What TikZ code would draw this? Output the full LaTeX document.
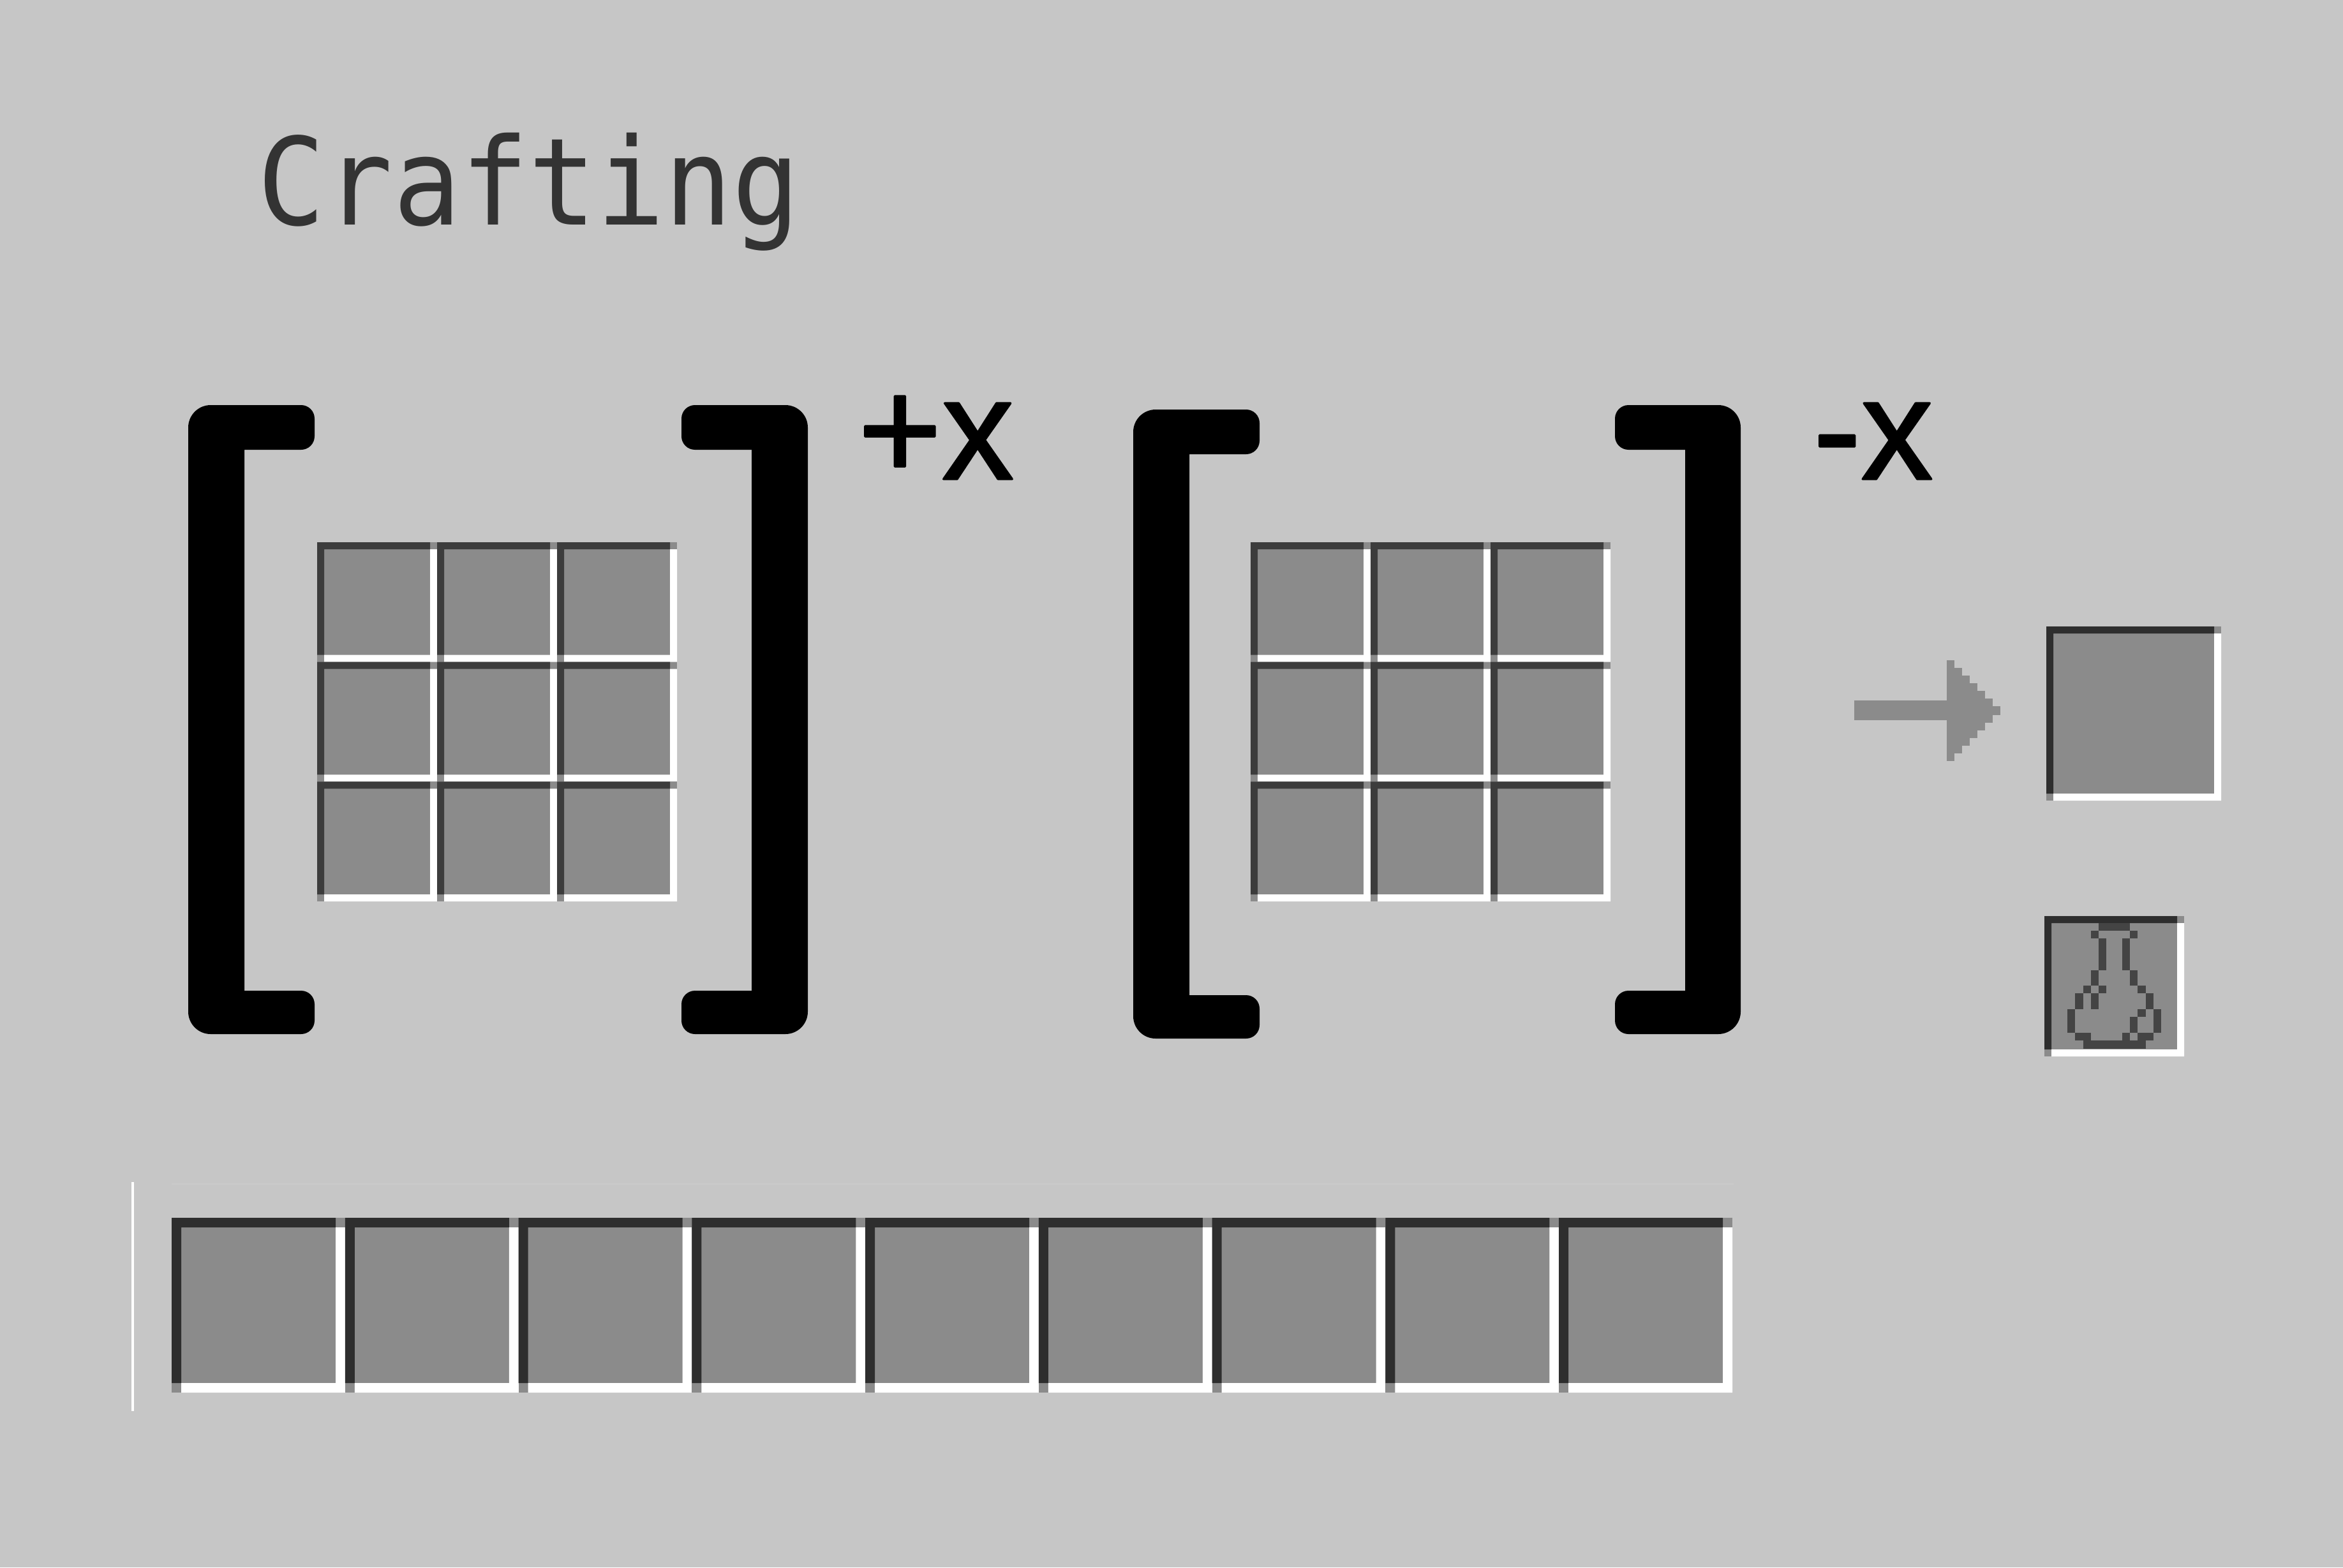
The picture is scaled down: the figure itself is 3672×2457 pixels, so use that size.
\documentclass[tikz,border=0pt]{standalone}
\usepackage{fontspec}
\newfontfamily\labelfont[FakeBold=1.5]{Liberation Sans}
\newfontfamily\pixelfont{DejaVu Sans Mono}
\definecolor{panelgray}{HTML}{C6C6C6}
\definecolor{ghostgray}{HTML}{CACACA}
\definecolor{slotgray}{HTML}{8B8B8B}
\definecolor{slotdark}{HTML}{2E2E2E}
\definecolor{griddark}{HTML}{3C3C3C}
\definecolor{flaskdark}{HTML}{444444}
\definecolor{textdark}{HTML}{333333}
\tikzset{
  powerlabel/.style={anchor=base west,inner sep=0pt,font=\labelfont\fontsize{64}{70}\selectfont},
  titlelabel/.style={anchor=base west,inner sep=0pt,xscale=0.93,text=textdark,font=\pixelfont\fontsize{54}{60}\selectfont}
}
% #1,#2 corner, #3,#4 size, #5 edge width, #6 edge colour
\newcommand{\slotbox}[6]{
\fill[slotgray] (#1,#2) rectangle ({#1+#3},{#2+#4});
\fill[#6] (#1,#2) rectangle ({#1+#3-#5},{#2+#5}) (#1,#2) rectangle ({#1+#5},{#2+#4-#5});
\fill[white] ({#1+#5},{#2+#4-#5}) rectangle ({#1+#3},{#2+#4}) ({#1+#3-#5},{#2+#5}) rectangle ({#1+#3},{#2+#4});
}
\begin{document}
\begin{tikzpicture}[x=0.01cm,y=-0.01cm,line join=round,line cap=round]
\fill[panelgray] (0,0) rectangle (3672,2457);
\node[titlelabel] (title) at (403,352) {Crafting};
\foreach \xo/\xi/\xe/\yt/\yit/\yib/\yb in {295/383/493/635/705/1553/1621,1266/1178/1068/635/705/1553/1621,1776/1864/1974/642/712/1560/1628,2728/2641/2531/635/705/1553/1621}
  \fill[black,rounded corners=6pt] (\xe,\yt) [rounded corners=10pt] -- (\xo,\yt) -- (\xo,\yb) [rounded corners=6pt] -- (\xe,\yb) -- (\xe,\yib) [sharp corners] -- (\xi,\yib) -- (\xi,\yit) [rounded corners=6pt] -- (\xe,\yit) -- cycle;
\foreach \gx in {497,1960}
  \foreach \i in {0,1,2}
    \foreach \j in {0,1,2}
      {\slotbox{\gx+\i*188}{850+\j*187.7}{188}{187.7}{11}{griddark}}
\fill[ghostgray] (269,1855) rectangle (2717,1857);
\foreach \i in {0,...,8}
  {\slotbox{269+\i*271.75}{1909}{272}{274}{15}{slotdark}}
\slotbox{3207}{982}{274}{273}{11}{slotdark}
\slotbox{3204}{1436}{219}{220}{11}{slotdark}
\fill[white] (206,1853) rectangle (210,2212);
\node[powerlabel] (plus) at (1344,751) {+x};
\node[powerlabel] (minus) at (2841,751) {-x};
\fill[slotgray] (2906,1098) rectangle (3051,1129);
\foreach \i in {0,...,6}
  \fill[slotgray] ({3051+\i*12},{1035+\i*12}) rectangle ({3063+\i*12},{1193-\i*12});
\foreach \ca/\ra/\cb/\rb in {4/0/8/1,3/1/4/2,8/1/9/2,4/2/5/6,7/2/8/6,3/6/4/8,8/6/9/8,2/8/3/9,4/8/5/9,9/8/10/9,1/9/2/11,3/9/4/11,10/9/11/11,0/11/1/14,11/11/12/14,9/11/10/12,8/12/9/14,1/14/3/15,7/14/8/15,9/14/11/15,2/15/10/16}
  \fill[flaskdark] ({3240+\ca*12.27},{1446.7+\ra*12.3}) rectangle ({3240+\cb*12.27},{1446.7+\rb*12.3});
\end{tikzpicture}
\end{document}
